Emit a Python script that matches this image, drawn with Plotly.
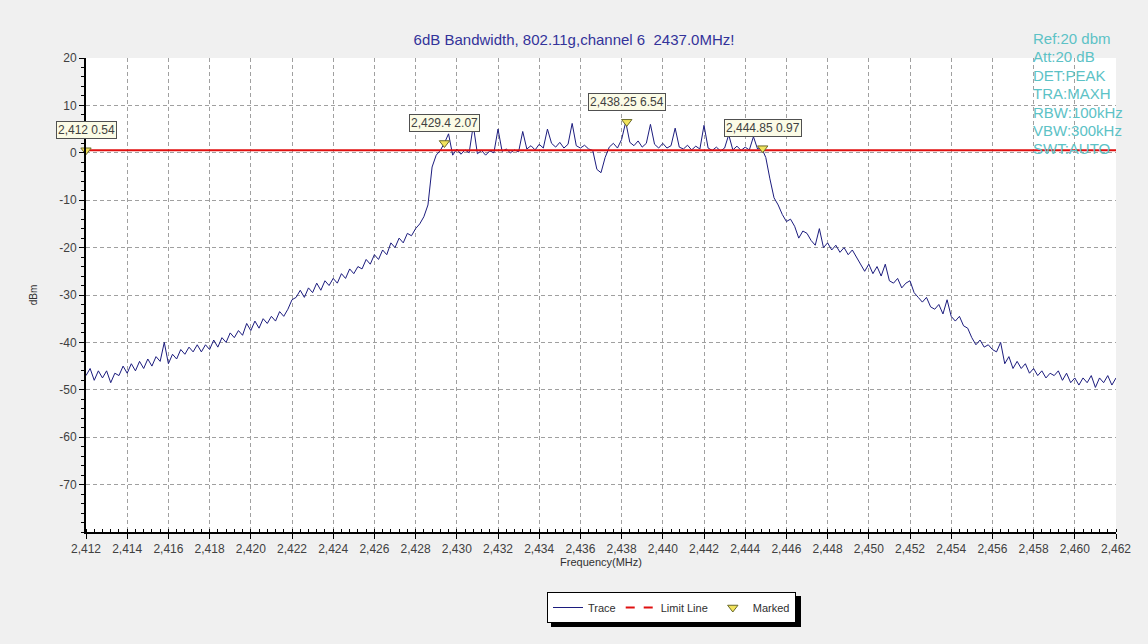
import plotly.graph_objects as go

# ---------------- data ----------------
freq_start = 2412.0      # MHz
freq_step = 0.2          # MHz between trace samples
trace_dbm = [
    -47.0, -45.5, -48.0, -46.0, -47.5, -46.0, -48.5, -46.5, -47.0, -45.0,   # 2412.0
    -46.5, -44.5, -46.0, -44.0, -45.5, -43.5, -45.0, -43.0, -44.0, -40.0,   # 2414.0
    -44.5, -42.5, -43.5, -41.5, -42.5, -41.0, -42.0, -40.5, -42.0, -40.5,   # 2416.0
    -41.5, -39.5, -41.0, -39.0, -40.0, -38.0, -39.0, -37.5, -38.5, -36.0,   # 2418.0
    -37.5, -35.5, -37.0, -35.0, -36.0, -34.5, -35.5, -33.5, -34.5, -33.0,   # 2420.0
    -31.0, -30.5, -29.0, -30.5, -28.5, -29.5, -27.5, -29.0, -27.0, -28.0,   # 2422.0
    -26.5, -27.5, -25.5, -26.5, -24.5, -25.5, -24.0, -24.5, -22.5, -23.5,   # 2424.0
    -21.5, -22.5, -20.5, -21.5, -19.0, -20.0, -18.0, -19.0, -17.0, -17.5,   # 2426.0
    -16.0, -15.0, -13.5, -11.0, -3.0, -0.5, 0.5, 2.07, 4.0, -0.5,           # 2428.0
    0.8, -0.3, 0.6, 0.0, 5.8, -0.2, 0.5, -0.5, 0.4, 0.0,                    # 2430.0
    5.0, 0.3, 0.8, 0.0, 0.6, 0.2, 4.5, 0.8, 1.5, 0.6,                       # 2432.0
    1.8, 1.0, 5.0, 2.0, 1.2, 2.2, 1.0, 1.8, 6.2, 1.5,                       # 2434.0
    1.0, 1.6, 0.8, 0.5, -3.5, -4.2, -1.0, 1.2, 2.0, 1.0,                    # 2436.0
    2.8, 6.5, 2.2, 1.5, 2.5, 1.2, 2.0, 6.0, 1.8, 1.0,                       # 2438.0
    2.0, 1.0, 1.5, 5.2, 1.2, 0.8, 1.6, 0.6, 1.4, 0.8,                       # 2440.0
    5.8, 1.0, 0.5, 1.2, 0.4, 1.0, 3.8, 0.6, 1.4, 0.5,                       # 2442.0
    1.2, 0.6, 3.4, 0.8, 1.0, -1.0, -5.5, -9.5, -11.0, -13.0,                # 2444.0
    -14.5, -14.0, -15.5, -18.0, -16.5, -17.0, -18.5, -19.5, -16.0, -20.0,   # 2446.0
    -19.0, -20.5, -19.5, -21.0, -20.0, -21.5, -20.5, -22.0, -23.5, -25.0,   # 2448.0
    -23.5, -25.5, -24.0, -26.0, -23.5, -27.0, -27.5, -26.5, -28.5, -27.5,   # 2450.0
    -27.0, -29.5, -30.5, -31.5, -30.5, -32.5, -33.0, -32.0, -34.0, -31.0,   # 2452.0
    -34.5, -35.5, -34.5, -36.5, -37.0, -39.0, -40.5, -39.5, -41.0, -40.5,   # 2454.0
    -41.5, -42.0, -40.0, -44.5, -43.0, -45.5, -44.0, -45.5, -44.5, -46.5,   # 2456.0
    -45.5, -47.0, -46.0, -47.5, -46.5, -47.0, -46.0, -48.0, -46.5, -48.5,   # 2458.0
    -47.5, -49.0, -47.5, -48.5, -47.0, -49.5, -47.5, -48.5, -47.0, -49.0,   # 2460.0
    -47.5,                                                                  # 2462.0
]
limit_dbm = 0.54

marker_freq = [2412.0, 2429.4, 2438.25, 2444.85]
marker_dbm = [0.54, 2.07, 6.54, 0.97]
marker_labels = ["2,412 0.54", "2,429.4 2.07", "2,438.25 6.54", "2,444.85 0.97"]

x_tick_vals = [2412, 2414, 2416, 2418, 2420, 2422, 2424, 2426, 2428, 2430, 2432,
               2434, 2436, 2438, 2440, 2442, 2444, 2446, 2448, 2450, 2452, 2454,
               2456, 2458, 2460, 2462]
x_tick_text = ["2,412", "2,414", "2,416", "2,418", "2,420", "2,422", "2,424", "2,426",
               "2,428", "2,430", "2,432", "2,434", "2,436", "2,438", "2,440", "2,442",
               "2,444", "2,446", "2,448", "2,450", "2,452", "2,454", "2,456", "2,458",
               "2,460", "2,462"]
y_tick_vals = [20, 10, 0, -10, -20, -30, -40, -50, -60, -70]
y_tick_text = ["20", "10", "0", "-10", "-20", "-30", "-40", "-50", "-60", "-70"]

settings_text = ["Ref:20 dbm", "Att:20 dB", "DET:PEAK", "TRA:MAXH",
                 "RBW:100kHz", "VBW:300kHz", "SWT:AUTO"]
title_text = "6dB Bandwidth, 802.11g,channel 6&nbsp; 2437.0MHz!"

# ---------------- figure ----------------
freqs = [freq_start + freq_step * i for i in range(len(trace_dbm))]
FONT = "Liberation Sans, Arial, sans-serif"
W, H = 1148, 644
ML, MR, MT, MB = 86, 32, 58, 112
PW, PH = W - ML - MR, H - MT - MB


def px_x(xpx):
    return (xpx - ML) / PW


def px_y(ypx):
    return (H - MB - ypx) / PH


fig = go.Figure()
fig.add_trace(go.Scatter(x=freqs, y=trace_dbm, mode="lines", name="Trace",
                         line=dict(color="#1c1c7e", width=1), legendrank=1))
fig.add_trace(go.Scatter(x=[freqs[0], freqs[-1]], y=[limit_dbm, limit_dbm], mode="lines",
                         line=dict(color="#e01010", width=2), showlegend=False))
fig.add_trace(go.Scatter(x=[None], y=[None], mode="lines", name="Limit Line",
                         line=dict(color="#e01010", width=2, dash="dash"), legendrank=2))
fig.add_trace(go.Scatter(x=marker_freq, y=marker_dbm, mode="markers", name="Marked",
                         marker=dict(symbol="triangle-down", size=9, color="#f2e35c",
                                     line=dict(color="#6a6a2a", width=1)),
                         cliponaxis=False, legendrank=3))

for fx, fy, txt in zip(marker_freq, marker_dbm, marker_labels):
    fig.add_annotation(x=fx, y=fy, xref="x", yref="y", text=txt, showarrow=False,
                       yshift=20, bgcolor="#fbfbe6", bordercolor="#505050",
                       borderwidth=1, borderpad=1,
                       font=dict(family=FONT, size=12, color="#404040"))

for k, line in enumerate(settings_text):
    ypx = 38.5 + k * 18.4
    fig.add_annotation(x=px_x(1031), y=px_y(ypx), xref="paper", yref="paper",
                       xanchor="left", yanchor="middle", text=line, showarrow=False,
                       font=dict(family=FONT, size=15, color="#5cc2c6"))

# legend placement (pixels) and its drop shadow
LEG_L, LEG_T, LEG_W, LEG_H = 547, 592, 250, 31
fig.add_shape(type="rect", xref="paper", yref="paper",
              x0=px_x(LEG_L + 4), x1=px_x(LEG_L + LEG_W + 4),
              y0=px_y(LEG_T + LEG_H + 4), y1=px_y(LEG_T + 4),
              fillcolor="#000000", opacity=1, line=dict(width=0), layer="below")

axis_common = dict(showline=True, linecolor="black", linewidth=2, mirror=False,
                   showgrid=True, gridcolor="#a0a0a0", griddash="4px,3px", gridwidth=1,
                   ticks="outside", ticklen=5, tickcolor="black", tickwidth=1,
                   tickfont=dict(family=FONT, size=12, color="#404040"),
                   zeroline=False, fixedrange=True, automargin=False)

fig.update_xaxes(range=[2412, 2462], tickmode="array", tickvals=x_tick_vals,
                 ticktext=x_tick_text,
                 minor=dict(tickmode="linear", tick0=2412, dtick=0.4, ticks="inside",
                            ticklen=3, tickcolor="black", showgrid=False),
                 title=dict(text="Frequency(MHz)", standoff=2,
                            font=dict(family=FONT, size=11, color="#303030")),
                 **axis_common)
fig.update_yaxes(range=[-80, 20], tickmode="array", tickvals=y_tick_vals,
                 ticktext=y_tick_text,
                 minor=dict(tickmode="linear", tick0=0, dtick=2, ticks="outside",
                            ticklen=3, tickcolor="black", showgrid=False),
                 title=dict(text="dBm", standoff=20,
                            font=dict(family=FONT, size=10, color="#303030")),
                 **axis_common)

fig.update_layout(
    width=W, height=H, autosize=False,
    margin=dict(l=ML, r=MR, t=MT, b=MB),
    paper_bgcolor="#f0f0f0", plot_bgcolor="white",
    font=dict(family=FONT, size=12, color="#303030"),
    title=dict(text=title_text, x=0.5, xanchor="center", xref="container",
               y=1 - 40 / H, yanchor="middle",
               font=dict(family=FONT, size=15, color="#33339a")),
    showlegend=True,
    legend=dict(orientation="h", x=px_x(LEG_L), xref="paper", xanchor="left",
                y=px_y(LEG_T), yref="paper", yanchor="top",
                bgcolor="white", bordercolor="black", borderwidth=1,
                font=dict(family=FONT, size=11, color="#303030"),
                itemwidth=30, tracegroupgap=0),
)

fig.write_html("out.html", config={"displayModeBar": False},
               post_script="document.body.style.margin='0';document.body.style.background='#f0f0f0';")
